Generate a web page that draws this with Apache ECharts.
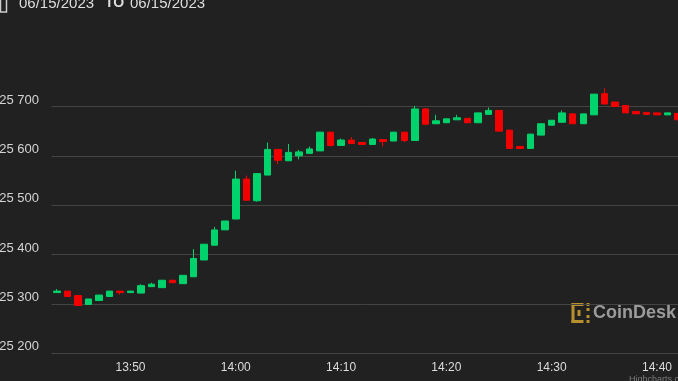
<!DOCTYPE html>
<html>
<head>
<meta charset="utf-8">
<script src="https://cdn.jsdelivr.net/npm/echarts@6/dist/echarts.min.js"></script>
<style>
html,body{margin:0;padding:0;background:#212121;}
#chart{width:678px;height:381px;}
</style>
</head>
<body>
<div id="chart"></div>
<script>
// 1-minute candles, 06/15/2023
var times = ['13:43','13:44','13:45','13:46','13:47','13:48','13:49','13:50','13:51','13:52',
  '13:53','13:54','13:55','13:56','13:57','13:58','13:59','14:00','14:01','14:02',
  '14:03','14:04','14:05','14:06','14:07','14:08','14:09','14:10','14:11','14:12',
  '14:13','14:14','14:15','14:16','14:17','14:18','14:19','14:20','14:21','14:22',
  '14:23','14:24','14:25','14:26','14:27','14:28','14:29','14:30','14:31','14:32',
  '14:33','14:34','14:35','14:36','14:37','14:38','14:39','14:40','14:41','14:42'];
var opens  = [25323,25326,25317,25299,25307,25315,25326,25323,25322,25335,
  25333,25348,25341,25355,25389,25419,25450,25472,25553,25509,
  25561,25613,25590,25600,25605,25610,25648,25621,25632,25627,
  25623,25633,25630,25648,25631,25695,25665,25667,25673,25676,
  25667,25684,25692,25652,25619,25615,25642,25662,25668,25685,
  25665,25683,25726,25709,25702,25690,25688,25687,25683,25686];
var closes = [25326,25315,25297,25310,25318,25326,25323,25326,25337,25340,
  25348,25343,25358,25392,25421,25450,25468,25553,25510,25564,
  25613,25591,25607,25608,25614,25648,25621,25632,25625,25623,
  25634,25629,25648,25631,25695,25664,25671,25675,25677,25667,
  25687,25692,25650,25615,25615,25644,25665,25672,25687,25665,
  25685,25725,25705,25700,25687,25685,25684,25683,25687,25673];
var lows   = [25323,25315,25297,25299,25307,25315,25319,25323,25322,25335,
  25333,25343,25341,25355,25389,25419,25450,25472,25510,25507,
  25561,25583,25590,25593,25605,25610,25619,25621,25625,25623,
  25623,25619,25630,25628,25631,25664,25665,25667,25673,25667,
  25667,25684,25650,25615,25614,25615,25642,25662,25668,25665,
  25665,25683,25705,25700,25687,25685,25684,25683,25683,25673];
var highs  = [25330,25326,25317,25310,25318,25326,25326,25326,25340,25343,
  25348,25348,25358,25411,25421,25456,25468,25570,25560,25564,
  25627,25613,25624,25612,25619,25648,25648,25635,25638,25627,
  25636,25633,25648,25648,25701,25697,25683,25675,25683,25676,
  25687,25698,25692,25652,25619,25644,25665,25672,25692,25685,
  25685,25725,25737,25709,25702,25690,25688,25687,25687,25686];
var xTickLabels = ['13:50','14:00','14:10','14:20','14:30','14:40'];
var yTickValues = [25200,25300,25400,25500,25600,25700];

var candles = times.map(function (t, i) { return [opens[i], closes[i], lows[i], highs[i]]; });

var UP = '#00d36b', DOWN = '#f20000';
var chart = echarts.init(document.getElementById('chart'), null, {renderer: 'canvas'});
chart.setOption({
  backgroundColor: '#212121',
  animation: false,
  grid: {left: 51.5, width: 631.8, top: 57.1, bottom: 27.7, containLabel: false, outerBoundsMode: 'none'},
  xAxis: {
    type: 'category',
    data: times,
    boundaryGap: true,
    axisLine: {show: false},
    axisTick: {show: false},
    splitLine: {show: false},
    axisLabel: {
      interval: function (idx, val) { return xTickLabels.indexOf(val) >= 0; },
      color: '#dcdcdc',
      fontSize: 12,
      fontFamily: 'Liberation Sans, Arial, sans-serif',
      margin: 8
    }
  },
  yAxis: {
    type: 'value',
    min: 25200,
    max: 25800,
    interval: 100,
    position: 'left',
    axisLine: {show: false},
    axisTick: {show: false},
    splitLine: {show: true, showMinLine: true, showMaxLine: false, lineStyle: {color: '#444444', width: 1}},
    axisLabel: {
      showMaxLabel: false,
      margin: 12.5,
      color: '#d4d4d4',
      fontSize: 13,
      fontFamily: 'Liberation Sans, Arial, sans-serif',
      verticalAlign: 'bottom',
      formatter: function (v) {
        if (yTickValues.indexOf(v) < 0) return '';
        var th = Math.floor(v / 1000), r = String(v % 1000);
        while (r.length < 3) r = '0' + r;
        return th + ' ' + r;
      }
    }
  },
  series: [{
    type: 'candlestick',
    data: candles,
    barWidth: 7,
    itemStyle: {color: UP, color0: DOWN, borderColor: UP, borderColor0: DOWN, borderWidth: 1}
  }],
  graphic: [
    {type: 'rect', shape: {x: 0.5, y: -6, width: 6, height: 18}, style: {fill: 'none', stroke: '#cccccc', lineWidth: 1.5}},
    {type: 'text', x: 19, y: 3.5, style: {text: '06/15/2023', fill: '#dedede', font: '15px "Liberation Sans", Arial, sans-serif', verticalAlign: 'middle'}},
    {type: 'text', x: 105, y: 3.5, style: {text: 'TO', fill: '#dedede', font: 'bold 14px "Liberation Sans", Arial, sans-serif', verticalAlign: 'middle'}},
    {type: 'text', x: 130, y: 3.5, style: {text: '06/15/2023', fill: '#dedede', font: '15px "Liberation Sans", Arial, sans-serif', verticalAlign: 'middle'}},
    // CoinDesk logo mark
    {type: 'group', x: 571.5, y: 303, children: [
      {type: 'rect', shape: {x: 0, y: 0, width: 3, height: 20}, style: {fill: '#b8912e'}},
      {type: 'rect', shape: {x: 0, y: 0, width: 12, height: 3}, style: {fill: '#b8912e'}},
      {type: 'rect', shape: {x: 0, y: 17, width: 12, height: 3}, style: {fill: '#b8912e'}},
      {type: 'rect', shape: {x: 15, y: 0, width: 3, height: 3}, style: {fill: '#b8912e'}},
      {type: 'rect', shape: {x: 15, y: 17, width: 3, height: 3}, style: {fill: '#b8912e'}},
      {type: 'rect', shape: {x: 15, y: 5, width: 3, height: 3}, style: {fill: '#b8912e'}},
      {type: 'rect', shape: {x: 15, y: 12, width: 3, height: 3}, style: {fill: '#b8912e'}},
      {type: 'rect', shape: {x: 6, y: 7, width: 3, height: 6}, style: {fill: '#b8912e'}}
    ]},
    {type: 'text', x: 593, y: 313.5, style: {text: 'CoinDesk', fill: '#9b9b9b', font: 'bold 18px "Liberation Sans", Arial, sans-serif', verticalAlign: 'middle'}},
    {type: 'text', x: 629, y: 375, style: {text: 'Highcharts.com', fill: '#7a7a7a', font: '9px "Liberation Sans", Arial, sans-serif', verticalAlign: 'top'}}
  ]
});
</script>
</body>
</html>
